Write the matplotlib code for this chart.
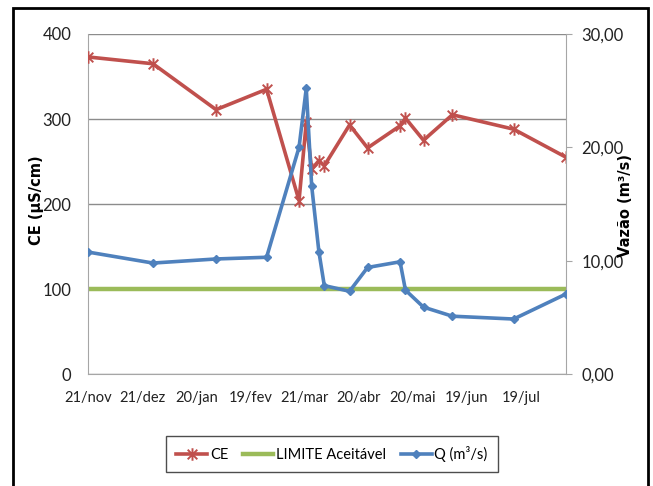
import matplotlib
matplotlib.use("Agg")
import matplotlib.pyplot as plt
from matplotlib.path import Path
from matplotlib.patches import Rectangle
from matplotlib.ticker import FuncFormatter, MultipleLocator
import pandas as pd

# dados de campo
datas = ["2010-11-21", "2010-12-27", "2011-01-31", "2011-02-28", "2011-03-18",
         "2011-03-22", "2011-03-25", "2011-03-29", "2011-04-01", "2011-04-15",
         "2011-04-25", "2011-05-13", "2011-05-16", "2011-05-26", "2011-06-11",
         "2011-07-15", "2011-08-13"]
ce = [373, 365, 311, 335, 204, 296, 241, 251, 245, 293,
      266, 292, 301, 275, 305, 288, 255]
vazao = [10.76, 9.79, 10.15, 10.3, 20.0, 25.2, 16.6, 10.8, 7.8, 7.3,
         9.4, 9.9, 7.4, 5.9, 5.1, 4.85, 7.06]
limite = 100

tick_datas = ["2010-11-21", "2010-12-21", "2011-01-20", "2011-02-19", "2011-03-21",
              "2011-04-20", "2011-05-20", "2011-06-19", "2011-07-19"]
tick_labels = ["21/nov", "21/dez", "20/jan", "19/fev", "21/mar",
               "20/abr", "20/mai", "19/jun", "19/jul"]

x = pd.to_datetime(datas)
xt = pd.to_datetime(tick_datas)

plt.rcParams["font.family"] = ["Lato", "DejaVu Sans"]

# marcador asterisco (X + barra vertical)
asterisco = Path([(-1, -1), (1, 1), (-1, 1), (1, -1), (0, -1.3), (0, 1.3)],
                 [Path.MOVETO, Path.LINETO, Path.MOVETO, Path.LINETO, Path.MOVETO, Path.LINETO])

vermelho = "#C0504D"
verde = "#9BBB59"
azul = "#4F81BD"

fig = plt.figure(figsize=(6.53, 4.86), dpi=100)
ax = fig.add_axes([88 / 653, 1 - 374 / 486, (566 - 88) / 653, (374 - 34) / 486])
ax2 = ax.twinx()

l1, = ax.plot(x, ce, color=vermelho, lw=2.6, marker=asterisco, ms=9,
              mew=1.4, mec=vermelho, label="CE", zorder=3)
l2 = ax.axhline(limite, color=verde, lw=3.2, label="LIMITE Aceitável", zorder=2)
l3, = ax2.plot(x, vazao, color=azul, lw=2.6, marker="D", ms=4.5,
               mec=azul, label="Q (m³/s)", zorder=3)

ax.set_xlim(x[0], x[-1])
ax.set_ylim(0, 400)
ax.yaxis.set_major_locator(MultipleLocator(100))
ax2.set_ylim(0, 30)
ax2.yaxis.set_major_locator(MultipleLocator(10))
ax2.yaxis.set_major_formatter(FuncFormatter(lambda v, p: f"{v:.2f}".replace(".", ",")))

ax.set_xticks(xt)
ax.set_xticklabels(tick_labels)
ax.grid(axis="y", color="#8c8c8c", lw=1)
ax.set_axisbelow(True)

for a in (ax, ax2):
    a.spines["top"].set_visible(False)
    for s in ("left", "bottom", "right"):
        a.spines[s].set_color("#a6a6a6")
ax.spines["right"].set_visible(False)
ax2.spines["left"].set_visible(False)
ax2.spines["bottom"].set_visible(False)

ax.tick_params(axis="x", length=0, pad=12, labelsize=10.5, colors="#222222")
ax.tick_params(axis="y", length=0, pad=12, labelsize=12, colors="#222222")
ax2.tick_params(axis="y", length=4, pad=7, labelsize=12, colors="#222222",
                color="#a6a6a6")

# títulos dos eixos
fig.text(36 / 653, 1 - 200 / 486, "CE (µS/cm)", rotation=90, ha="center", va="center",
         fontsize=10.5, fontweight="bold", family="DejaVu Sans")
fig.text(626 / 653, 1 - 205 / 486, "Vazão (m³/s)", rotation=90, ha="center", va="center",
         fontsize=10.5, fontweight="bold", family="DejaVu Sans")

fig.legend(handles=[l1, l2, l3], loc="center", bbox_to_anchor=(332 / 653, 1 - 454 / 486),
           ncol=3, frameon=True, fancybox=False, edgecolor="#222222", fontsize=10.5,
           handlelength=2.1, handletextpad=0.2, columnspacing=1.0, borderpad=0.7)

# moldura externa
fig.patches.append(Rectangle((13 / 653, -0.02), 635 / 653, 1 - 8 / 486 + 0.02,
                             transform=fig.transFigure, fill=False,
                             edgecolor="black", lw=2))

fig.savefig("out.png", dpi=100)
